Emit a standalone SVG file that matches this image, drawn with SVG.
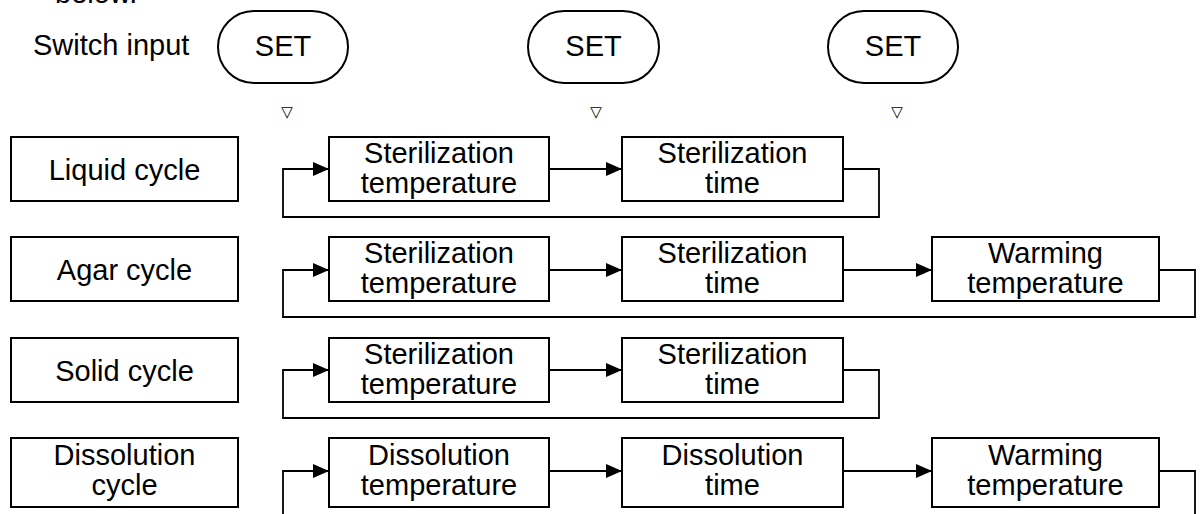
<svg xmlns="http://www.w3.org/2000/svg" width="1201" height="514" viewBox="0 0 1201 514">
<style>
  text { font-family: "Liberation Sans", Arial, sans-serif; font-size: 29px; fill: #000; }
  .c { text-anchor: middle; }
  .box { fill: #fff; stroke: #000; stroke-width: 2; }
  .pill { fill: #fff; stroke: #000; stroke-width: 2; }
  .tri { font-family: "DejaVu Sans", sans-serif; font-size: 15px; text-anchor: middle; }
  .ln { fill: none; stroke: #000; stroke-width: 1.8; }
</style>
<defs>
  <marker id="ah" viewBox="0 0 16 14" refX="16" refY="7" markerWidth="16" markerHeight="14" markerUnits="userSpaceOnUse" orient="auto">
    <path d="M0,0 L16,7 L0,14 Z" fill="#000"/>
  </marker>
</defs>
<rect width="1201" height="514" fill="#fff"/>

<g id="header">
  <text x="55" y="3">below.</text>
  <text x="33" y="55">Switch input</text>
</g>

<g id="set1">
  <rect class="pill" x="218" y="11" width="130" height="72" rx="36" ry="36"/>
  <text class="c" x="283" y="56">SET</text>
  <text class="tri" x="287" y="117">▽</text>
</g>
<g id="set2">
  <rect class="pill" x="528" y="11" width="131" height="72" rx="36" ry="36"/>
  <text class="c" x="593.5" y="56">SET</text>
  <text class="tri" x="596" y="117">▽</text>
</g>
<g id="set3">
  <rect class="pill" x="828" y="11" width="130" height="72" rx="36" ry="36"/>
  <text class="c" x="893" y="56">SET</text>
  <text class="tri" x="897" y="117">▽</text>
</g>

<!-- Row 1: Liquid -->
<g id="liquid-cycle">
  <rect class="box" x="11" y="137" width="227" height="64"/>
  <text class="c" x="124.5" y="180">Liquid cycle</text>
</g>
<g id="liquid-temp">
  <rect class="box" x="329" y="137" width="220" height="64"/>
  <text class="c" x="439" y="163">Sterilization</text>
  <text class="c" x="439" y="193">temperature</text>
</g>
<g id="liquid-time">
  <rect class="box" x="622" y="137" width="221" height="64"/>
  <text class="c" x="732.5" y="163">Sterilization</text>
  <text class="c" x="732.5" y="193">time</text>
</g>

<!-- Row 2: Agar -->
<g id="agar-cycle">
  <rect class="box" x="11" y="237" width="227" height="64"/>
  <text class="c" x="124.5" y="280">Agar cycle</text>
</g>
<g id="agar-temp">
  <rect class="box" x="329" y="237" width="220" height="64"/>
  <text class="c" x="439" y="263">Sterilization</text>
  <text class="c" x="439" y="293">temperature</text>
</g>
<g id="agar-time">
  <rect class="box" x="622" y="237" width="221" height="64"/>
  <text class="c" x="732.5" y="263">Sterilization</text>
  <text class="c" x="732.5" y="293">time</text>
</g>
<g id="agar-warm">
  <rect class="box" x="932" y="237" width="227" height="64"/>
  <text class="c" x="1045.5" y="263">Warming</text>
  <text class="c" x="1045.5" y="293">temperature</text>
</g>

<!-- Row 3: Solid -->
<g id="solid-cycle">
  <rect class="box" x="11" y="338" width="227" height="64"/>
  <text class="c" x="124.5" y="381">Solid cycle</text>
</g>
<g id="solid-temp">
  <rect class="box" x="329" y="338" width="220" height="64"/>
  <text class="c" x="439" y="364">Sterilization</text>
  <text class="c" x="439" y="394">temperature</text>
</g>
<g id="solid-time">
  <rect class="box" x="622" y="338" width="221" height="64"/>
  <text class="c" x="732.5" y="364">Sterilization</text>
  <text class="c" x="732.5" y="394">time</text>
</g>

<!-- Row 4: Dissolution -->
<g id="diss-cycle">
  <rect class="box" x="11" y="438" width="227" height="69"/>
  <text class="c" x="124.5" y="465">Dissolution</text>
  <text class="c" x="124.5" y="495">cycle</text>
</g>
<g id="diss-temp">
  <rect class="box" x="329" y="438" width="220" height="69"/>
  <text class="c" x="439" y="465">Dissolution</text>
  <text class="c" x="439" y="495">temperature</text>
</g>
<g id="diss-time">
  <rect class="box" x="622" y="438" width="221" height="69"/>
  <text class="c" x="732.5" y="465">Dissolution</text>
  <text class="c" x="732.5" y="495">time</text>
</g>
<g id="diss-warm">
  <rect class="box" x="932" y="438" width="227" height="69"/>
  <text class="c" x="1045.5" y="465">Warming</text>
  <text class="c" x="1045.5" y="495">temperature</text>
</g>

<g id="connectors">
  <!-- Liquid -->
  <path class="ln" d="M549,169 H622" marker-end="url(#ah)"/>
  <path class="ln" d="M843,169 H879 V217 H283 V169 H329" marker-end="url(#ah)"/>
  <!-- Agar -->
  <path class="ln" d="M549,270 H622" marker-end="url(#ah)"/>
  <path class="ln" d="M843,270 H932" marker-end="url(#ah)"/>
  <path class="ln" d="M1159,270 H1195 V317 H283 V270 H329" marker-end="url(#ah)"/>
  <!-- Solid -->
  <path class="ln" d="M549,370 H622" marker-end="url(#ah)"/>
  <path class="ln" d="M843,370 H879 V418 H283 V370 H329" marker-end="url(#ah)"/>
  <!-- Dissolution -->
  <path class="ln" d="M549,471 H622" marker-end="url(#ah)"/>
  <path class="ln" d="M843,471 H932" marker-end="url(#ah)"/>
  <path class="ln" d="M1159,471 H1195 V514"/>
  <path class="ln" d="M283,514 V471 H329" marker-end="url(#ah)"/>
</g>
</svg>
